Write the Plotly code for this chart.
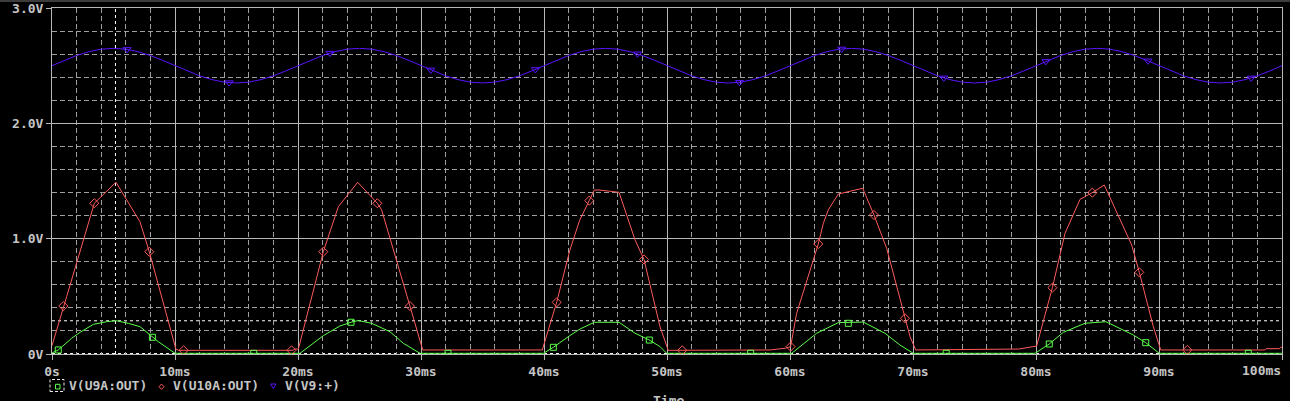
import plotly.graph_objects as go

# ---------------- data ----------------
# time in ms, voltage in V
blue_t = list(range(0, 101))
blue_v = [
    2.500, 2.546, 2.588, 2.621, 2.643, 2.650, 2.643, 2.621, 2.588, 2.546,
    2.500, 2.454, 2.412, 2.379, 2.357, 2.350, 2.357, 2.379, 2.412, 2.454,
    2.500, 2.546, 2.588, 2.621, 2.643, 2.650, 2.643, 2.621, 2.588, 2.546,
    2.500, 2.454, 2.412, 2.379, 2.357, 2.350, 2.357, 2.379, 2.412, 2.454,
    2.500, 2.546, 2.588, 2.621, 2.643, 2.650, 2.643, 2.621, 2.588, 2.546,
    2.500, 2.454, 2.412, 2.379, 2.357, 2.350, 2.357, 2.379, 2.412, 2.454,
    2.500, 2.546, 2.588, 2.621, 2.643, 2.650, 2.643, 2.621, 2.588, 2.546,
    2.500, 2.454, 2.412, 2.379, 2.357, 2.350, 2.357, 2.379, 2.412, 2.454,
    2.500, 2.546, 2.588, 2.621, 2.643, 2.650, 2.643, 2.621, 2.588, 2.546,
    2.500, 2.454, 2.412, 2.379, 2.357, 2.350, 2.357, 2.379, 2.412, 2.454,
    2.500,
]
blue_mark_t = [6.1, 14.4, 22.6, 30.8, 39.3, 47.6, 55.9, 64.2, 72.5, 80.8, 89.1, 97.5]
blue_mark_v = [2.641, 2.353, 2.609, 2.463, 2.467, 2.603, 2.356, 2.645, 2.394, 2.537, 2.542, 2.394]

red_t = [0, 0.92, 1.2, 3.44, 5.2, 7.15, 7.91, 10.08, 10.3, 19.6, 19.75, 20.03,
         22.06, 23.28, 24.85, 26.45, 26.8, 29.1, 30.14, 39.86, 41.03, 42.1, 42.9,
         43.68, 44.09, 44.47, 46.1, 47.4, 48.13, 49.43, 50.1, 58.4, 59.6, 60.05,
         60.54, 62.3, 62.71, 63.11, 63.93, 65.91, 66.83, 67.86, 69.35, 69.76, 70.22,
         78.6, 80.05, 80.33, 81.33, 82.36, 83.58, 84.58, 85.55, 87.78, 88.4, 89.54,
         90.14, 98.6, 98.7, 99.8, 99.9, 100]
red_v = [0.072, 0.416, 0.50, 1.307, 1.489, 1.147, 0.887, 0.040, 0.032, 0.032, 0.043, 0.043,
         0.887, 1.277, 1.489, 1.307, 1.250, 0.416, 0.035, 0.035, 0.448, 0.900, 1.160,
         1.330, 1.422, 1.422, 1.402, 0.990, 0.820, 0.237, 0.032, 0.035, 0.050, 0.064,
         0.353, 0.954, 1.133, 1.249, 1.387, 1.437, 1.205, 0.916, 0.310, 0.150, 0.035,
         0.043, 0.069, 0.180, 0.575, 1.047, 1.341, 1.399, 1.465, 0.945, 0.708, 0.237,
         0.035, 0.035, 0.046, 0.046, 0.058, 0.058]
red_mark_t = [0.92, 3.44, 7.91, 10.7, 19.47, 22.06, 26.45, 29.1, 41.03, 43.68, 48.13,
              51.24, 60.05, 62.3, 66.83, 69.35, 81.33, 84.58, 88.4, 92.3]
red_mark_v = [0.416, 1.307, 0.887, 0.032, 0.032, 0.887, 1.307, 0.416, 0.448, 1.330, 0.820,
              0.032, 0.064, 0.954, 1.205, 0.310, 0.575, 1.399, 0.708, 0.035]

green_t = [0, 0.51, 1.6, 2.28, 3.36, 4.45, 5.2, 6.2, 7.15, 8.16, 8.64, 10.0,
           20.16, 22.06, 23.41, 24.31, 24.9, 25.99, 27.48, 28.56, 29.92,
           39.95, 40.76, 42.1, 42.93, 44.09, 46.1, 47.4, 48.56, 49.43, 49.97,
           60.14, 62.17, 63.93, 65.96, 67.72, 68.94, 70.02,
           79.92, 81.08, 82.22, 83.98, 85.69, 87.91, 88.92, 90.02, 100]
green_v = [0.009, 0.035, 0.136, 0.188, 0.257, 0.280, 0.289, 0.266, 0.237, 0.145, 0.107, 0.006,
           0.006, 0.159, 0.243, 0.275, 0.290, 0.266, 0.193, 0.093, 0.006,
           0.006, 0.058, 0.159, 0.217, 0.275, 0.275, 0.180, 0.121, 0.064, 0.006,
           0.006, 0.180, 0.272, 0.277, 0.180, 0.078, 0.006,
           0.006, 0.087, 0.188, 0.266, 0.280, 0.165, 0.098, 0.006, 0.006]
green_mark_t = [0.51, 8.16, 16.4, 24.31, 32.2, 40.76, 48.56, 56.8, 64.74, 72.7, 81.08, 88.92, 97.26]
green_mark_v = [0.035, 0.145, 0.006, 0.275, 0.006, 0.058, 0.121, 0.006, 0.266, 0.006, 0.087, 0.098, 0.006]

cursor_t = 5.16
cursor_levels = [0.288, 0.004]

x_ticks = [0, 10, 20, 30, 40, 50, 60, 70, 80, 90, 100]
x_labels = ["0s", "10ms", "20ms", "30ms", "40ms", "50ms", "60ms", "70ms", "80ms", "90ms", ""]
last_x_label = "100ms"
y_ticks = [0, 1, 2, 3]
y_labels = ["0V", "1.0V", "2.0V", "3.0V"]
legend_names = ["V(U9A:OUT)", "V(U10A:OUT)", "V(V9:+)"]

# ---------------- styling ----------------
W, H = 1290, 401
ML, MR, MT, MB = 52, 8, 8, 47
PW, PH = W - ML - MR, H - MT - MB

GREEN = "#5cff4a"
RED = "#ff5a5a"
BLUE = "#5a14ff"
TXT = "#c4c4c4"
AX = "#b8b8b8"
MINOR = "#a0a0a0"
FONT = "DejaVu Sans Mono"
TFONT = dict(family=FONT, size=13, color=TXT, weight="bold")

x_minor = [v for v in range(2, 100, 2) if v % 10]
y_minor = [v / 10 for v in range(2, 30, 2) if v % 10]


def pxx(p):
    return (p - ML) / PW


def pxy(p):
    return (MT + PH - p) / PH


fig = go.Figure()

fig.add_trace(go.Scatter(x=blue_t, y=blue_v, mode="lines",
                         line=dict(color=BLUE, width=1), showlegend=False))
fig.add_trace(go.Scatter(x=red_t, y=red_v, mode="lines",
                         line=dict(color=RED, width=1), showlegend=False))
fig.add_trace(go.Scatter(x=green_t, y=green_v, mode="lines",
                         line=dict(color=GREEN, width=1), showlegend=False))

fig.add_trace(go.Scatter(x=blue_mark_t, y=blue_mark_v, mode="markers", showlegend=False,
                         marker=dict(symbol="triangle-down-open", size=7, color=BLUE,
                                     line=dict(width=1, color=BLUE))))
fig.add_trace(go.Scatter(x=red_mark_t, y=red_mark_v, mode="markers", showlegend=False,
                         marker=dict(symbol="diamond-open", size=7, color=RED,
                                     line=dict(width=1, color=RED))))
fig.add_trace(go.Scatter(x=green_mark_t, y=green_mark_v, mode="markers", showlegend=False,
                         marker=dict(symbol="square-open", size=6, color=GREEN,
                                     line=dict(width=1, color=GREEN))))

shapes = []
# cursor lines
shapes.append(dict(type="line", xref="x", yref="paper", x0=cursor_t, x1=cursor_t, y0=0, y1=1,
                   line=dict(color="#ffffff", width=1, dash="dot"), layer="between"))
for lv in cursor_levels:
    shapes.append(dict(type="line", xref="paper", yref="y", x0=0, x1=1, y0=lv, y1=lv,
                       line=dict(color="#ffffff", width=1, dash="dot"), layer="between"))
# thin strip at the very top of the window
shapes.append(dict(type="rect", xref="paper", yref="paper", x0=pxx(0), x1=pxx(W),
                   y0=pxy(2), y1=pxy(0), line=dict(width=0), fillcolor="#3c3c3c"))
# legend symbols
shapes.append(dict(type="rect", xref="paper", yref="paper", x0=pxx(50), x1=pxx(64),
                   y0=pxy(391.5), y1=pxy(379.5), line=dict(color="#e8e8e8", width=1, dash="3px,2px")))
shapes.append(dict(type="rect", xref="paper", yref="paper", x0=pxx(55.5), x1=pxx(60),
                   y0=pxy(389), y1=pxy(384.3), line=dict(color=GREEN, width=1)))
dx, dy = pxx(161.5), pxy(386.7)
shapes.append(dict(type="path", xref="paper", yref="paper",
                   path=f"M {pxx(159)} {dy} L {dx} {pxy(384)} L {pxx(164)} {dy} L {dx} {pxy(389.4)} Z",
                   line=dict(color=RED, width=1)))
shapes.append(dict(type="path", xref="paper", yref="paper",
                   path=f"M {pxx(270.7)} {pxy(384)} L {pxx(276)} {pxy(384)} L {pxx(273.3)} {pxy(388.5)} Z",
                   line=dict(color=BLUE, width=1)))

annotations = []
for name, xs in zip(legend_names, [68, 172, 284]):
    annotations.append(dict(text=name, xref="paper", yref="paper", x=pxx(xs - 1), y=pxy(385.5),
                            xanchor="left", yanchor="middle", showarrow=False, font=TFONT))
annotations.append(dict(text=last_x_label, xref="x", yref="paper", x=100, y=pxy(371),
                        xanchor="right", yanchor="middle", showarrow=False, xshift=1, font=TFONT))
annotations.append(dict(text="Time", xref="paper", yref="paper", x=pxx(668), y=pxy(391),
                        xanchor="center", yanchor="top", showarrow=False, font=TFONT))

fig.update_layout(
    width=W, height=H,
    margin=dict(l=ML, r=MR, t=MT, b=MB, pad=0, autoexpand=False),
    paper_bgcolor="#000000", plot_bgcolor="#000000",
    font=TFONT,
    shapes=shapes, annotations=annotations, showlegend=False,
)
fig.update_xaxes(
    range=[0, 100], tickmode="array", tickvals=x_ticks, ticktext=x_labels, automargin=False,
    ticks="outside", ticklen=5, tickcolor=AX, tickwidth=1,
    showline=True, linecolor=AX, linewidth=1, mirror=True,
    showgrid=True, gridcolor=AX, gridwidth=1, zeroline=False,
    tickfont=TFONT,
    minor=dict(tickmode="array", tickvals=x_minor, showgrid=True, gridcolor=MINOR,
               gridwidth=1, griddash="5px,3px", ticks=""),
)
fig.update_yaxes(
    range=[0, 3], tickmode="array", tickvals=y_ticks, ticktext=y_labels, automargin=False,
    ticks="outside", ticklen=5, tickcolor=AX, tickwidth=1,
    showline=True, linecolor=AX, linewidth=1, mirror=True,
    showgrid=True, gridcolor=AX, gridwidth=1, zeroline=False,
    tickfont=TFONT,
    minor=dict(tickmode="array", tickvals=y_minor, showgrid=True, gridcolor=MINOR,
               gridwidth=1, griddash="5px,3px", ticks=""),
)

fig.write_html(
    "out.html",
    config={"displayModeBar": False, "staticPlot": True},
    post_script="document.body.style.margin='0';document.body.style.overflow='hidden';"
                "document.body.style.background='#000';",
)
